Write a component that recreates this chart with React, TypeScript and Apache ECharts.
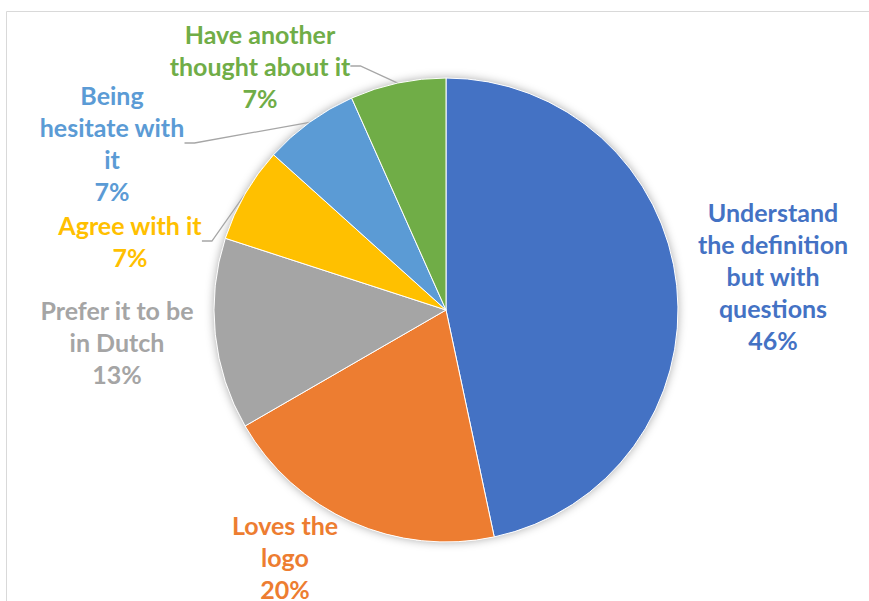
import React, { useEffect, useRef } from "react";
import * as echarts from "echarts";

const categories = [
  "Understand the definition but with questions",
  "Loves the logo",
  "Prefer it to be in Dutch",
  "Agree with it",
  "Being hesitate with it",
  "Have another thought about it",
];
// respondents per answer (15 in total)
const counts = [7, 3, 2, 1, 1, 1];
const percentLabels = ["46%", "20%", "13%", "7%", "7%", "7%"];
const wrappedNames = [
  "Understand\nthe definition\nbut with\nquestions",
  "Loves the\nlogo",
  "Prefer it to be\nin Dutch",
  "Agree with it",
  "Being\nhesitate with\nit",
  "Have another\nthought about it",
];
const colors = ["#4472C4", "#ED7D31", "#A5A5A5", "#FFC000", "#5B9BD5", "#70AD47"];
const withLeader = [false, false, false, true, true, true];

// layout: label centres (px)
const labelCentres: [number, number][] = [
  [773, 276],
  [285, 557],
  [117, 342],
  [130, 241],
  [112, 143],
  [260, 66],
];

export default function App() {
  const ref = useRef<HTMLDivElement>(null);
  useEffect(() => {
    if (!ref.current) return;
    const chart = echarts.init(ref.current, null, { renderer: "svg" });
    const cx = 446;
    const cy = 310;
    const r = 232;
    chart.setOption({
      animation: false,
      backgroundColor: "#ffffff",
      graphic: [
        {
          type: "rect",
          shape: { x: 6.5, y: 11.5, width: 900, height: 620 },
          style: { fill: "none", stroke: "#d9d9d9", lineWidth: 1 },
          z: -10,
        },
      ],
      series: [
        {
          type: "pie",
          silent: true,
          center: [cx, cy],
          radius: [0, r],
          label: { show: false },
          labelLine: { show: false },
          itemStyle: {
            color: "#ffffff",
            shadowBlur: 10,
            shadowColor: "rgba(0,0,0,0.35)",
          },
          data: [{ value: 1, name: "bg" }],
          z: 1,
        },
        {
          type: "pie",
          center: [cx, cy],
          radius: [0, r],
          startAngle: 90,
          clockwise: true,
          z: 2,
          itemStyle: { borderColor: "#ffffff", borderWidth: 1 },
          data: categories.map((name, i) => ({
            name,
            value: counts[i],
            itemStyle: { color: colors[i] },
            label: {
              show: true,
              position: "outside",
              formatter: () => wrappedNames[i] + "\n" + percentLabels[i],
              color: colors[i],
              fontFamily: "Lato",
              fontWeight: "bold",
              fontSize: 25,
              lineHeight: 32,
              align: "center",
            },
            labelLine: {
              show: withLeader[i],
              length: 10,
              length2: 10,
              smooth: false,
              lineStyle: { color: "#a6a6a6", width: 1.3 },
            },
          })),
          labelLayout: (params: any) => {
            const p = labelCentres[params.dataIndex];
            return {
              x: p[0],
              y: p[1],
              align: "center",
              verticalAlign: "middle",
              hideOverlap: false,
            };
          },
        },
      ],
    });
    return () => chart.dispose();
  }, []);
  return (
    <div
      ref={ref}
      style={{ position: "fixed", left: 0, top: 0, width: 869, height: 601 }}
    />
  );
}
